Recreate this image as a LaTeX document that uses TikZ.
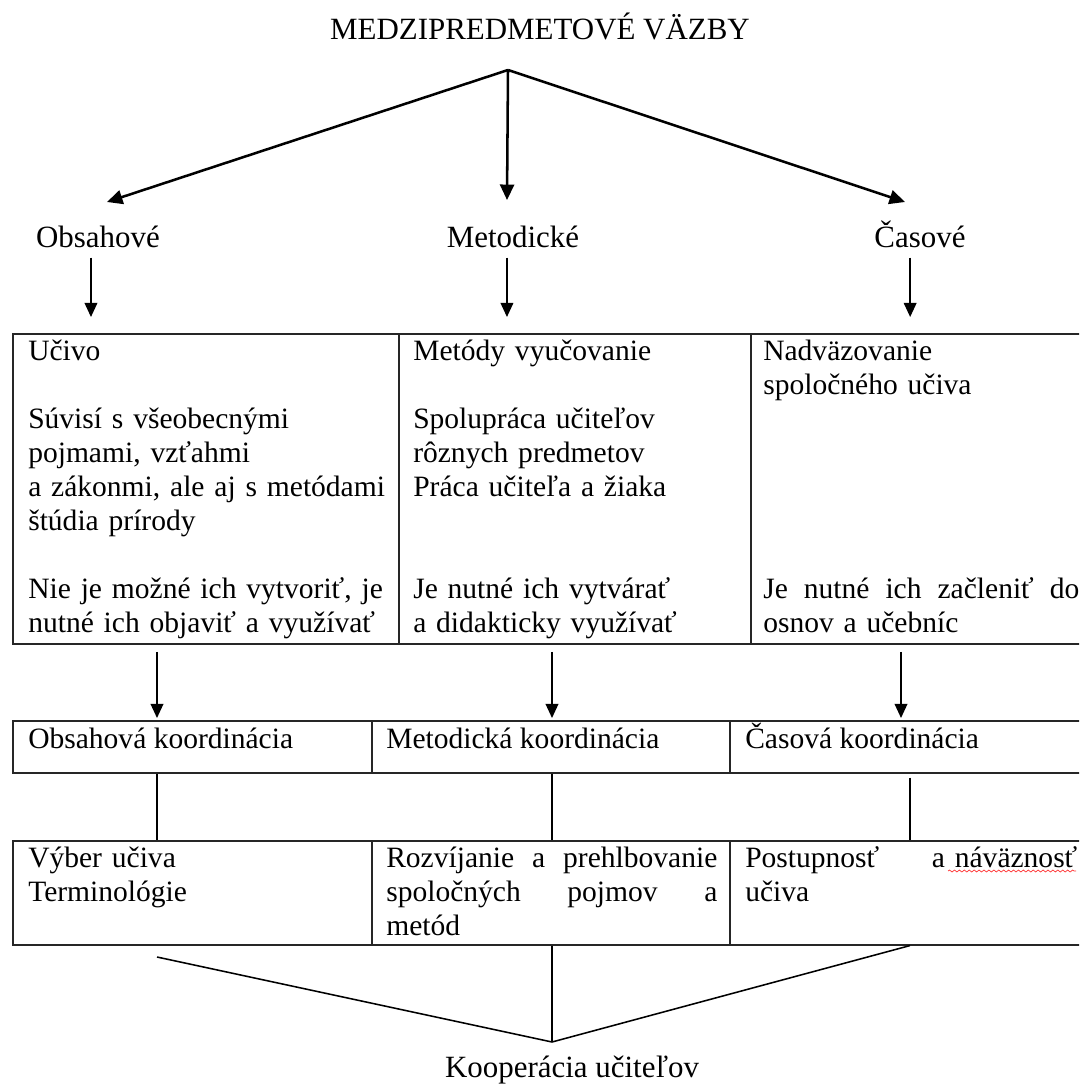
\documentclass[tikz,border=0pt]{standalone}
\usepackage{fontspec}
\setmainfont{Liberation Serif}
\usetikzlibrary{arrows.meta,decorations.pathmorphing}

\begin{document}
\begin{tikzpicture}
[
x=0.025cm, y=-0.025cm,
lbl/.style={anchor=base, inner sep=0pt, font=\fontsize{22}{26}\selectfont},
cell/.style={draw=black!85, line width=1.1pt, anchor=north west, inner sep=0pt},
txt/.style={anchor=base west, inner sep=0pt, align=left, font=\fontsize{21}{24.2}\selectfont},
arr/.style={line width=1.1pt, -{Triangle[length=10pt,width=9pt]}},
bigarr/.style={line width=1.8pt, -{Triangle[length=11pt,width=10pt]}},
link/.style={line width=1.1pt}
]
\useasboundingbox (0,0) rectangle (1079,1084);
\clip (0,0) rectangle (1079,1084);

%Nodes
\node[lbl]  (title) at (540,40)  {MEDZIPREDMETOVÉ VÄZBY};
\coordinate (apex)  at (508,70);
\coordinate (tObs)  at (107,202);
\coordinate (tMet)  at (507,200);
\coordinate (tCas)  at (905,202);
\node[lbl]  (obs)   at (98,247)  {Obsahové};
\node[lbl]  (met)   at (513,247) {Metodické};
\node[lbl]  (cas)   at (920,247) {Časové};

% spines
\coordinate (sA) at (157,0);
\coordinate (sB) at (552,0);
\coordinate (sC) at (901,0);
\coordinate (sD) at (910,0);

% first table
\node[cell, minimum width=9.65cm, minimum height=7.75cm] (u1) at (12,333)  {};
\node[cell, minimum width=8.8cm,  minimum height=7.75cm] (u2) at (398,333) {};
\node[cell, minimum width=8.75cm, minimum height=7.75cm] (u3) at (750,333) {};
\node[txt, text width=9.3cm] (u1t) at (28,360) {Učivo\\\mbox{}\\Súvisí s všeobecnými\\pojmami, vzťahmi\\a zákonmi, ale aj s metódami\\štúdia prírody\\\mbox{}\\Nie je možné ich vytvoriť, je\\nutné ich objaviť a využívať};
\node[txt, text width=8.4cm] (u2t) at (413,360) {Metódy vyučovanie\\\mbox{}\\Spolupráca učiteľov\\rôznych predmetov\\Práca učiteľa a žiaka\\\mbox{}\\\mbox{}\\Je nutné ich vytvárať\\a didakticky využívať};
\node[txt, text width=7.9cm] (u3t) at (763,360) {Nadväzovanie\\spoločného učiva\\\mbox{}\\\mbox{}\\\mbox{}\\\mbox{}\\\mbox{}\\Je\hfill nutné\hfill ich\hfill začleniť\hfill do\\osnov a učebníc};

% second table
\node[cell, minimum width=8.975cm, minimum height=1.3cm] (k1) at (12,720)  {};
\node[cell, minimum width=8.95cm,  minimum height=1.3cm] (k2) at (371,720) {};
\node[cell, minimum width=9.275cm, minimum height=1.3cm] (k3) at (729,720) {};
\node[txt] (k1t) at (28,748)  {Obsahová koordinácia};
\node[txt] (k2t) at (386,748) {Metodická koordinácia};
\node[txt] (k3t) at (745,748) {Časová koordinácia};

% third table
\node[cell, minimum width=8.975cm, minimum height=2.6cm] (v1) at (12,840)  {};
\node[cell, minimum width=8.95cm,  minimum height=2.6cm] (v2) at (371,840) {};
\node[cell, minimum width=9.275cm, minimum height=2.6cm] (v3) at (729,840) {};
\node[txt, text width=8.5cm]   (v1t) at (28,867)  {Výber učiva\\Terminológie};
\node[txt, text width=8.275cm] (v2t) at (386,867) {Rozvíjanie\hfill a\hfill prehlbovanie\\spoločných\hfill pojmov\hfill a\\metód};
\node[txt, text width=8.3cm]   (v3t) at (745,867) {Postupnosť\hfill a náväznosť\\učiva};

\coordinate (kA)    at (157,957);
\coordinate (kapex) at (552,1042);
\node[lbl] (koop) at (572,1077) {Kooperácia učiteľov};

%Lines
\draw[bigarr] (apex) -- (tObs);
\draw[bigarr] (apex) -- (tMet);
\draw[bigarr] (apex) -- (tCas);

\draw[arr, shorten <=0.25cm, shorten >=0.4cm] ([xshift=-5pt]obs.south) -- ([xshift=-5pt]obs.south |- u1.north);
\draw[arr, shorten <=0.25cm, shorten >=0.4cm] ([xshift=-4.3pt]met.south) -- ([xshift=-4.3pt]met.south |- u2.north);
\draw[arr, shorten <=0.25cm, shorten >=0.4cm] ([xshift=-7pt]cas.south) -- ([xshift=-7pt]cas.south |- u3.north);

\draw[arr, shorten <=0.18cm, shorten >=0.05cm] (sA |- u1.south) -- (sA |- k1.north);
\draw[arr, shorten <=0.18cm, shorten >=0.05cm] (sB |- u2.south) -- (sB |- k2.north);
\draw[arr, shorten <=0.18cm, shorten >=0.05cm] (sC |- u3.south) -- (sC |- k3.north);

\draw[link] (sA |- k1.south) -- (sA |- v1.north);
\draw[link] (sB |- k2.south) -- (sB |- v2.north);
\draw[link, shorten <=0.1cm] (sD |- k3.south) -- (sD |- v3.north);

\draw[link] (kA) -- (kapex);
\draw[link] (sB |- v2.south) -- (kapex);
\draw[link] (sD |- v3.south) -- (kapex);

% spelling mark
\draw[red!80, line width=0.5pt, decorate, decoration={snake, amplitude=0.7pt, segment length=3.5pt}] (948,871) -- (1076,871);
\end{tikzpicture}
\end{document}
